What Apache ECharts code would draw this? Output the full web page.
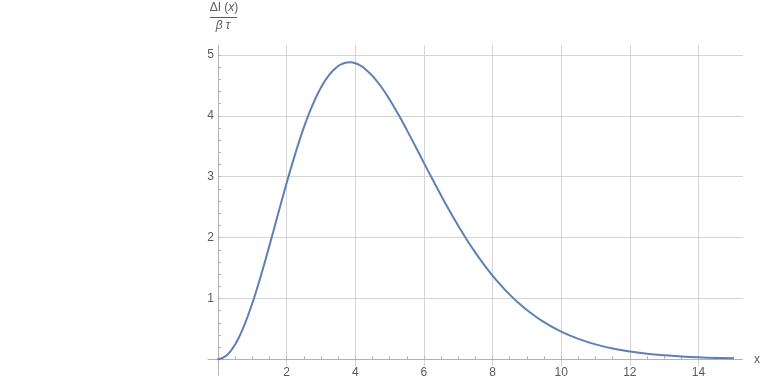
<!DOCTYPE html>
<html>
<head>
<meta charset="utf-8">
<script src="https://cdn.jsdelivr.net/npm/echarts@6/dist/echarts.min.js"></script>
<style>html,body{margin:0;padding:0;background:#fff}#c{width:763px;height:382px}</style>
</head>
<body>
<div id="c"></div>
<script>
// ---- data ----
const xs = [0,0.25,0.5,0.75,1,1.25,1.5,1.75,2,2.25,2.5,2.75,3,3.25,3.5,3.625,3.75,3.875,4,4.125,4.25,4.5,4.75,5,
            5.25,5.5,5.75,6,6.25,6.5,6.75,7,7.25,7.5,7.75,8,8.25,8.5,8.75,9,
            9.5,10,10.5,11,11.5,12,12.5,13,13.5,14,14.5,15];
const ys = [0,0.062,0.245,0.537,0.921,1.374,1.872,2.388,2.896,3.375,3.806,4.173,4.466,4.682,4.818,4.857,4.877,4.880,4.865,4.835,4.789,4.658,4.482,4.269,
            4.029,3.770,3.502,3.228,2.957,2.692,2.436,2.193,1.965,1.752,1.555,1.375,1.211,1.063,0.929,0.810,
            0.610,0.454,0.335,0.245,0.177,0.127,0.091,0.065,0.046,0.032,0.022,0.016];
const xTickStep = 2, xTickMax = 14, xMinorStep = 0.5, xMinorMax = 15;
const yTickStep = 1, yTickMax = 5, yMinorStep = 0.2;
const xLabel = 'x';

// ---- layout ----
const W = 763, H = 382;
const X0 = 218, SX = 34.32;      // pixel of x=0, px per x unit
const Y0 = 359.3, SY = 60.86;    // pixel of y=0, px per y unit
const X_END = 743, Y_TOP = 45, X_LEFT = 208, Y_BOT = 375, GRID_BOT = 366;
const xMaxData = (X_END - X0) / SX;

const gridCol = '#d4d4d4', axisCol = '#b2b2b2', txtCol = '#5a5a5a';
const font = 'Liberation Sans, Arial, sans-serif';

const chart = echarts.init(document.getElementById('c'), null, {renderer: 'canvas'});
const off = {show: false};
chart.setOption({
  animation: false,
  backgroundColor: '#fff',
  grid: [
    {left: X0, right: W - X_END, top: Y0 - yTickMax * SY, bottom: H - Y0},
    {left: X0, width: xTickMax * SX, top: Y_TOP, bottom: H - GRID_BOT},
    {left: X0, width: xMinorMax * SX, top: Y0 - yTickMax * SY, bottom: H - Y0},
    {left: X_LEFT, right: W - X_END, top: Y_TOP, bottom: H - Y_BOT}
  ],
  xAxis: [
    {gridIndex: 0, type: 'value', min: 0, max: xMaxData, axisLine: off, axisTick: off, axisLabel: off, splitLine: off},
    {gridIndex: 1, type: 'value', min: 0, max: xTickMax, interval: xTickStep,
      axisLine: off, axisTick: off, splitLine: {show: true, lineStyle: {color: gridCol, width: 1}},
      axisLabel: {show: true, showMinLabel: false, margin: 1, color: txtCol, fontSize: 12, fontFamily: font}},
    {gridIndex: 2, type: 'value', min: 0, max: xMinorMax, interval: xMinorStep,
      axisLine: off, axisLabel: off, splitLine: off,
      axisTick: {show: true, inside: true, length: 3, lineStyle: {color: axisCol}}},
    {gridIndex: 3, type: 'value', min: -(X0 - X_LEFT) / SX, max: xMaxData,
      axisLine: {show: true, onZero: true, lineStyle: {color: axisCol, width: 1}},
      axisTick: off, axisLabel: off, splitLine: off,
      name: xLabel, nameLocation: 'end', nameGap: 12,
      nameTextStyle: {color: txtCol, fontSize: 12, fontFamily: font, verticalAlign: 'middle'}}
  ],
  yAxis: [
    {gridIndex: 0, type: 'value', min: 0, max: yTickMax, interval: yTickStep,
      axisLine: off, axisTick: off,
      splitLine: {show: true, lineStyle: {color: gridCol, width: 1}},
      axisLabel: {show: true, showMinLabel: false, margin: 4, color: txtCol, fontSize: 12, fontFamily: font}},
    {gridIndex: 1, type: 'value', min: 0, max: 1, axisLine: off, axisTick: off, axisLabel: off, splitLine: off},
    {gridIndex: 2, type: 'value', min: 0, max: yTickMax, interval: yMinorStep,
      axisLine: off, axisLabel: off, splitLine: off,
      axisTick: {show: true, inside: true, length: 3, lineStyle: {color: axisCol}}},
    {gridIndex: 3, type: 'value', min: -(Y_BOT - Y0) / SY, max: (Y0 - Y_TOP) / SY,
      axisLine: {show: true, onZero: true, lineStyle: {color: axisCol, width: 1}},
      axisTick: off, axisLabel: off, splitLine: off}
  ],
  graphic: [
    {type: 'text', x: 224, y: 8, z: 10,
      style: {text: '{n|ΔI (}{i|x}{n|)}', align: 'center', verticalAlign: 'middle', fill: txtCol,
        rich: {n: {fontSize: 12, fontFamily: font, fill: txtCol, color: txtCol},
               i: {fontSize: 12, fontFamily: font, fontStyle: 'italic', fill: txtCol, color: txtCol}}}},
    {type: 'line', z: 10, shape: {x1: 210, y1: 17.5, x2: 237, y2: 17.5}, style: {stroke: txtCol, lineWidth: 1}},
    {type: 'text', x: 223, y: 26, z: 10,
      style: {text: 'β τ', align: 'center', verticalAlign: 'middle', fill: txtCol,
        font: 'italic 12px ' + font}}
  ],
  series: [{
    type: 'line', xAxisIndex: 0, yAxisIndex: 0,
    data: xs.map((x, i) => [x, ys[i]]),
    showSymbol: false, smooth: 0.4, clip: false,
    lineStyle: {color: '#5e81b5', width: 2, join: 'round', cap: 'round'}, z: 5
  }]
});
</script>
</body>
</html>
